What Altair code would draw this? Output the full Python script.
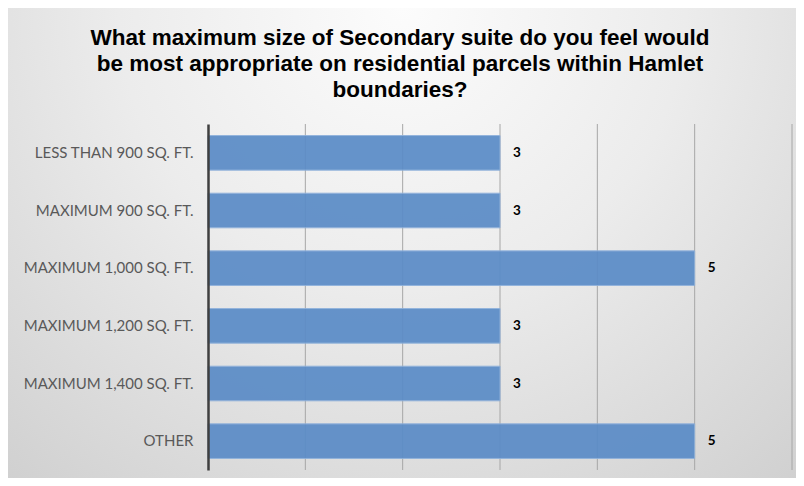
import altair as alt
import pandas as pd

categories = [
    "LESS THAN 900 SQ. FT.",
    "MAXIMUM 900 SQ. FT.",
    "MAXIMUM 1,000 SQ. FT.",
    "MAXIMUM 1,200 SQ. FT.",
    "MAXIMUM 1,400 SQ. FT.",
    "OTHER",
]
counts = [3, 3, 5, 3, 3, 5]
grid_values = [1, 2, 3, 4, 5, 6]
title_lines = [
    "What maximum size of Secondary suite do you feel would",
    "be most appropriate on residential parcels within Hamlet",
    "boundaries?",
]

df = pd.DataFrame({"category": categories, "count": counts})
grid_df = pd.DataFrame({"v": grid_values})
bg_df = pd.DataFrame({"k": [0]})

PAD_L, PAD_T, W, H = 200, 116, 584, 346
PAD_R, PAD_B = 4, 8

x_scale = alt.Scale(domain=[0, 6], nice=False)

bg = alt.Chart(bg_df).mark_rect(
    fill=alt.Gradient(
        gradient="radial",
        stops=[
            alt.GradientStop(color="#fcfcfc", offset=0),
            alt.GradientStop(color="#ececec", offset=0.45),
            alt.GradientStop(color="#cfcfcf", offset=1),
        ],
        x1=0.5, y1=0.2, x2=0.5, y2=0.2, r1=0, r2=0.8,
    )
).encode(
    x=alt.value(-PAD_L), x2=alt.value(W + PAD_R),
    y=alt.value(-PAD_T), y2=alt.value(H + PAD_B),
)

grid = alt.Chart(grid_df).mark_rule(color="#a6a6a6", strokeWidth=1).encode(
    x=alt.X("v:Q", scale=x_scale, axis=None),
    y=alt.value(0), y2=alt.value(H),
)

x_enc = alt.X(
    "count:Q", scale=x_scale,
    axis=alt.Axis(title=None, labels=False, ticks=False, domain=False, grid=False),
)
y_enc = alt.Y(
    "category:N", sort=categories,
    scale=alt.Scale(paddingInner=0.4, paddingOuter=0.2),
    axis=alt.Axis(title=None, ticks=False, domainColor="#3f3f3f", domainWidth=2.5,
                  labelFont="Lato", labelFontSize=15, labelColor="#595959",
                  labelPadding=15, grid=False, zindex=1),
)

bars = alt.Chart(df).mark_bar(
    color="#5b8cc7", opacity=0.93, stroke="#8db0db", strokeWidth=1
).encode(x=x_enc, y=y_enc)

labels = alt.Chart(df).mark_text(
    align="left", baseline="middle", dx=13, font="Lato", fontSize=13.5,
    fontWeight="bold", color="#000000"
).encode(x="count:Q", y=alt.Y("category:N", sort=categories), text="count:Q")

chart = alt.layer(bg, grid, bars, labels).properties(
    width=W, height=H,
    autosize=alt.AutoSizeParams(type="none"),
    padding={"left": PAD_L, "top": PAD_T, "right": PAD_R, "bottom": PAD_B},
    title=alt.TitleParams(
        text=title_lines, font="Liberation Sans", fontSize=22.5, fontWeight="bold",
        color="#000000", anchor="middle", dx=-100, lineHeight=26, offset=-93,
    ),
).configure_view(stroke=None).configure(background="white")

chart.save("out.html", embed_options={"renderer": "svg", "actions": False})
